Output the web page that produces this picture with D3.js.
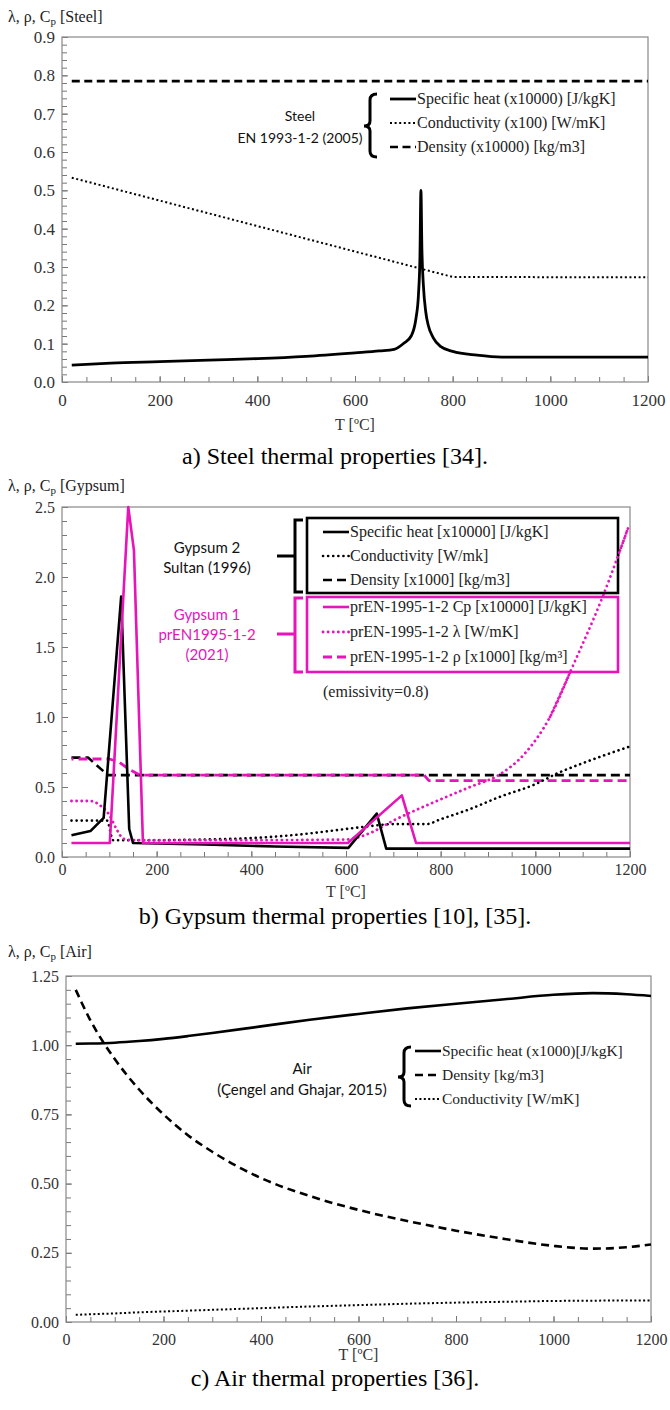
<!DOCTYPE html>
<html>
<head>
<meta charset="utf-8">
<script src="https://cdn.jsdelivr.net/npm/d3@7"></script>
<style>
  body { margin: 0; background: #fff; }
  svg { display: block; }
  .serif { font-family: "Liberation Serif", "Times New Roman", Tinos, "DejaVu Serif", serif; }
  .sans { font-family: Lato, "Open Sans", sans-serif; }
</style>
</head>
<body>
<div id="chart"></div>
<script>
// ---- Steel (EN 1993-1-2) ----
const steelCpT = [20, 100, 200, 300, 400, 500, 600, 650, 680, 700, 715, 725, 730, 733, 735, 737, 740, 745, 750, 760, 775, 800, 850, 900, 1000, 1100, 1200];
const steelCp  = [0.044, 0.049, 0.053, 0.057, 0.061, 0.067, 0.076, 0.081, 0.085, 0.101, 0.120, 0.167, 0.229, 0.327, 0.500, 0.346, 0.253, 0.182, 0.148, 0.116, 0.093, 0.080, 0.070, 0.065, 0.065, 0.065, 0.065];
const steelLamT = [20, 800, 1200];
const steelLam  = [0.533, 0.274, 0.273];
const steelRhoT = [20, 1200];
const steelRho  = [0.785, 0.785];

// ---- Gypsum 2 (Sultan 1996) ----
const g2CpT = [20, 60, 88, 125, 142, 150, 300, 450, 605, 665, 685, 1200];
const g2Cp  = [0.155, 0.185, 0.28, 1.86, 0.2, 0.1, 0.09, 0.075, 0.065, 0.31, 0.06, 0.06];
const g2LamT = [20, 95, 108, 200, 300, 400, 500, 600, 650, 700, 770, 800, 860, 925, 1000, 1048, 1100, 1200];
const g2Lam  = [0.26, 0.26, 0.12, 0.12, 0.125, 0.135, 0.16, 0.2, 0.22, 0.235, 0.235, 0.27, 0.34, 0.43, 0.52, 0.6, 0.67, 0.79];
const g2RhoT = [20, 55, 97, 1200];
const g2Rho  = [0.71, 0.71, 0.585, 0.585];

// ---- Gypsum 1 (prEN 1995-1-2) ----
const g1CpT = [20, 101, 140, 152, 171, 604, 718, 748, 1200];
const g1Cp  = [0.1, 0.1, 2.5, 2.19, 0.1, 0.1, 0.44, 0.1, 0.1];
const g1LamT = [20, 60, 80, 100, 115, 130, 150, 400, 600, 650, 700, 771, 862, 925, 978, 1031, 1080, 1140, 1196];
const g1Lam  = [0.4, 0.4, 0.37, 0.3, 0.2, 0.13, 0.12, 0.12, 0.125, 0.17, 0.26, 0.37, 0.5, 0.59, 0.74, 1.0, 1.37, 1.84, 2.35];
const g1RhoT = [20, 100, 120, 140, 165, 765, 775, 1200];
const g1Rho  = [0.7, 0.7, 0.68, 0.63, 0.585, 0.585, 0.545, 0.545];

// ---- Air (Cengel and Ghajar 2015) ----
const airT   = [20, 50, 100, 150, 200, 250, 300, 400, 500, 600, 700, 800, 900, 1000, 1080, 1150, 1200];
const airCp  = [1.005, 1.006, 1.009, 1.015, 1.023, 1.033, 1.044, 1.068, 1.092, 1.113, 1.133, 1.150, 1.166, 1.182, 1.188, 1.184, 1.178];
const airRho = [1.2, 1.09, 0.95, 0.84, 0.75, 0.675, 0.615, 0.52, 0.455, 0.405, 0.365, 0.33, 0.3, 0.275, 0.265, 0.27, 0.28];
const airLam = [0.026, 0.028, 0.031, 0.035, 0.038, 0.041, 0.044, 0.050, 0.056, 0.061, 0.066, 0.070, 0.073, 0.076, 0.077, 0.078, 0.078];

const xMajor = [0, 200, 400, 600, 800, 1000, 1200];

const PINK = "#e614b9";

const svg = d3.select("#chart").append("svg")
    .attr("width", 670)
    .attr("height", 1410);

svg.append("rect").attr("width", 670).attr("height", 1410).attr("fill", "#fff");

function zip(xs, ys) { return xs.map((t, i) => ({ t: t, v: ys[i] })); }

function panel(cfg) {
    const x = d3.scaleLinear().domain([0, 1200]).range([cfg.left, cfg.right]);
    const y = d3.scaleLinear().domain([0, cfg.yMax]).range([cfg.bottom, cfg.top]);
    const g = svg.append("g");

    // minor ticks
    g.append("g")
        .attr("transform", `translate(0,${cfg.bottom})`)
        .call(d3.axisBottom(x).tickValues(d3.range(0, 1201, 50)).tickSize(-5).tickFormat(""))
        .call(s => s.select(".domain").remove())
        .selectAll("line").attr("stroke", "#777");
    g.append("g")
        .attr("transform", `translate(${cfg.left},0)`)
        .call(d3.axisLeft(y).tickValues(d3.range(0, cfg.yMax + 1e-9, cfg.yMinor)).tickSize(-5).tickFormat(""))
        .call(s => s.select(".domain").remove())
        .selectAll("line").attr("stroke", "#777");

    // major ticks + labels
    const xa = g.append("g")
        .attr("transform", `translate(0,${cfg.bottom})`)
        .call(d3.axisBottom(x).tickValues(xMajor).tickSize(-6).tickPadding(cfg.xPad).tickFormat(d3.format("d")));
    xa.select(".domain").remove();
    xa.attr("font-family", null);
    xa.selectAll("line").attr("stroke", "#777");
    xa.selectAll("text").attr("class", "serif").attr("fill", "#333").style("font-size", cfg.fs + "px");

    const ya = g.append("g")
        .attr("transform", `translate(${cfg.left},0)`)
        .call(d3.axisLeft(y).tickValues(d3.range(0, cfg.yMax + 1e-9, cfg.yStep)).tickSize(-6).tickPadding(7).tickFormat(d3.format(cfg.yFmt)));
    ya.select(".domain").remove();
    ya.attr("font-family", null);
    ya.selectAll("line").attr("stroke", "#777");
    ya.selectAll("text").attr("class", "serif").attr("fill", "#333").style("font-size", cfg.fs + "px");

    // plot frame
    g.append("rect")
        .attr("x", cfg.left).attr("y", cfg.top)
        .attr("width", cfg.right - cfg.left).attr("height", cfg.bottom - cfg.top)
        .attr("fill", "none").attr("stroke", "#888").attr("stroke-width", 1.2);

    // title top-left
    const tt = g.append("text")
        .attr("class", "serif")
        .attr("x", 8).attr("y", cfg.titleY)
        .style("font-size", "16px").attr("fill", "#222");
    tt.append("tspan").text("λ, ρ, C");
    tt.append("tspan").style("font-size", "11px").attr("dy", 3).text("p");
    tt.append("tspan").attr("dy", -3).text(" [" + cfg.name + "]");

    g.append("text")
        .attr("class", "serif")
        .attr("x", (cfg.left + cfg.right) / 2).attr("y", cfg.xTitleY)
        .attr("text-anchor", "middle")
        .style("font-size", "16px").attr("fill", "#333")
        .text("T [ºC]");

    g.append("text")
        .attr("class", "serif")
        .attr("x", 335).attr("y", cfg.captionY)
        .attr("text-anchor", "middle")
        .style("font-size", "24px").attr("fill", "#000")
        .text(cfg.caption);

    return { x, y, g };
}

function curve(p, data, style, curveType) {
    const line = d3.line().x(d => p.x(d.t)).y(d => p.y(d.v)).curve(curveType || d3.curveLinear);
    const path = p.g.append("path")
        .datum(data)
        .attr("fill", "none")
        .attr("stroke", style.color)
        .attr("stroke-width", style.width)
        .attr("stroke-linejoin", "round")
        .attr("d", line);
    if (style.dash) path.attr("stroke-dasharray", style.dash);
    if (style.cap) path.attr("stroke-linecap", style.cap);
    return path;
}

function legendRow(g, x, y, style, label, fs) {
    const l = g.append("line")
        .attr("x1", x).attr("x2", x + 26).attr("y1", y - 5).attr("y2", y - 5)
        .attr("stroke", style.color).attr("stroke-width", style.width);
    if (style.dash) l.attr("stroke-dasharray", style.dash);
    if (style.cap) l.attr("stroke-linecap", style.cap);
    g.append("text")
        .attr("class", "serif")
        .attr("x", x + 27).attr("y", y)
        .style("font-size", fs + "px").attr("fill", "#222")
        .text(label);
}

function curlyBrace(g, x, y0, y1, ym, color) {
    const path = `M${x + 7},${y0} Q${x},${y0} ${x},${y0 + 6} L${x},${ym - 5} Q${x},${ym} ${x - 6},${ym} Q${x},${ym} ${x},${ym + 5} L${x},${y1 - 6} Q${x},${y1} ${x + 7},${y1}`;
    g.append("path").attr("d", path).attr("fill", "none").attr("stroke", color).attr("stroke-width", 3);
}

function squareBrace(g, x, y0, y1, ym, color) {
    g.append("path")
        .attr("d", `M${x + 8},${y0} L${x},${y0} L${x},${y1} L${x + 8},${y1} M${x},${ym} L${x - 18},${ym}`)
        .attr("fill", "none").attr("stroke", color).attr("stroke-width", 3);
}

function annot(g, x, lines, y0, dy, color, fs) {
    lines.forEach((s, i) => {
        g.append("text")
            .attr("class", "sans")
            .attr("x", x).attr("y", y0 + i * dy)
            .attr("text-anchor", "middle")
            .style("font-size", (fs || 15) + "px").attr("fill", color)
            .text(s);
    });
}

// ---------------- a) Steel ----------------
const pa = panel({
    name: "Steel", left: 62, right: 648, top: 37, bottom: 382, yMax: 0.9, yStep: 0.1, yMinor: 0.02, yFmt: ".1f",
    fs: 17, xPad: 12, titleY: 22, xTitleY: 430, captionY: 464, caption: "a) Steel thermal properties [34]."
});
const solidA = { color: "#000", width: 2.8 };
const dotA = { color: "#000", width: 2, dash: "2,2.6" };
const dashA = { color: "#000", width: 2.6, dash: "8,4.5" };
curve(pa, zip(steelRhoT, steelRho), dashA);
curve(pa, zip(steelLamT, steelLam), dotA);
curve(pa, zip(steelCpT, steelCp), solidA, d3.curveMonotoneX);

annot(pa.g, 300, ["Steel", "EN 1993-1-2 (2005)"], 121, 22, "#111", 14);
curlyBrace(pa.g, 370, 94, 157, 126, "#000");
legendRow(pa.g, 390, 104, solidA, "Specific heat (x10000) [J/kgK]", 16);
legendRow(pa.g, 390, 128, dotA, "Conductivity (x100) [W/mK]", 16);
legendRow(pa.g, 390, 152, dashA, "Density (x10000) [kg/m3]", 16);

// ---------------- b) Gypsum ----------------
const pb = panel({
    name: "Gypsum", left: 62, right: 630, top: 507, bottom: 857, yMax: 2.5, yStep: 0.5, yMinor: 0.1, yFmt: ".1f",
    fs: 16, xPad: 7, titleY: 491, xTitleY: 897, captionY: 924, caption: "b) Gypsum thermal properties [10], [35]."
});
const solidB = { color: "#000", width: 2.6 };
const dotB = { color: "#000", width: 2.6, dash: "0.1,5", cap: "round" };
const dashB = { color: "#000", width: 2.6, dash: "9,5" };
const solidP = { color: PINK, width: 2.6 };
const dotP = { color: PINK, width: 2.8, dash: "0.1,5", cap: "round" };
const dashP = { color: PINK, width: 2.8, dash: "9,5" };

curve(pb, zip(g2RhoT, g2Rho), dashB);
curve(pb, zip(g1RhoT, g1Rho), dashP).attr("stroke-dashoffset", 7);
curve(pb, zip(g2LamT, g2Lam), dotB, d3.curveMonotoneX);
curve(pb, zip(g1LamT, g1Lam), dotP, d3.curveMonotoneX);
curve(pb, zip(g2CpT, g2Cp), solidB);
curve(pb, zip(g1CpT, g1Cp), solidP);

annot(pb.g, 207, ["Gypsum 2", "Sultan (1996)"], 553, 20, "#111");
annot(pb.g, 207, ["Gypsum 1", "prEN1995-1-2", "(2021)"], 620, 20, PINK);
squareBrace(pb.g, 295, 520, 592, 556, "#000");
squareBrace(pb.g, 295, 598, 672, 634, PINK);
pb.g.append("rect").attr("x", 307).attr("y", 518).attr("width", 311).attr("height", 75)
    .attr("fill", "#fff").attr("stroke", "#000").attr("stroke-width", 2.6);
pb.g.append("rect").attr("x", 307).attr("y", 597).attr("width", 311).attr("height", 75)
    .attr("fill", "#fff").attr("stroke", PINK).attr("stroke-width", 2.6);
// conductivity line passes over the legend box
curve(pb, zip(g1LamT, g1Lam).filter(d => d.t >= 1031), dotP, d3.curveMonotoneX);
legendRow(pb.g, 323, 537, solidB, "Specific heat [x10000] [J/kgK]", 16);
legendRow(pb.g, 323, 561, dotB, "Conductivity [W/mk]", 16);
legendRow(pb.g, 323, 585, dashB, "Density [x1000] [kg/m3]", 16);
legendRow(pb.g, 323, 612, solidP, "prEN-1995-1-2 Cp [x10000] [J/kgK]", 16);
legendRow(pb.g, 323, 637, dotP, "prEN-1995-1-2 λ [W/mK]", 16);
legendRow(pb.g, 323, 662, dashP, "prEN-1995-1-2 ρ [x1000] [kg/m³]", 16);
pb.g.append("text").attr("class", "serif").attr("x", 323).attr("y", 697)
    .style("font-size", "16px").attr("fill", "#222")
    .text("(emissivity=0.8)");

// ---------------- c) Air ----------------
const pc = panel({
    name: "Air", left: 66, right: 651, top: 976, bottom: 1322, yMax: 1.25, yStep: 0.25, yMinor: 0.05, yFmt: ".2f",
    fs: 16, xPad: 12, titleY: 957, xTitleY: 1360, captionY: 1386, caption: "c) Air thermal properties [36]."
});
const solidC = { color: "#000", width: 2.6 };
const dashC = { color: "#000", width: 2.6, dash: "8,5" };
const dotC = { color: "#000", width: 2, dash: "2,2.4" };
curve(pc, zip(airT, airCp), solidC, d3.curveMonotoneX);
curve(pc, zip(airT, airRho), dashC, d3.curveMonotoneX);
curve(pc, zip(airT, airLam), dotC, d3.curveMonotoneX);

annot(pc.g, 302, ["Air", "(Çengel and Ghajar, 2015)"], 1074, 21, "#111");
curlyBrace(pc.g, 404, 1047, 1106, 1077, "#000");
legendRow(pc.g, 415, 1056, solidC, "Specific heat (x1000)[J/kgK]", 15.5);
legendRow(pc.g, 415, 1080, dashC, "Density [kg/m3]", 15.5);
legendRow(pc.g, 415, 1104, dotC, "Conductivity [W/mK]", 15.5);
</script>
</body>
</html>
